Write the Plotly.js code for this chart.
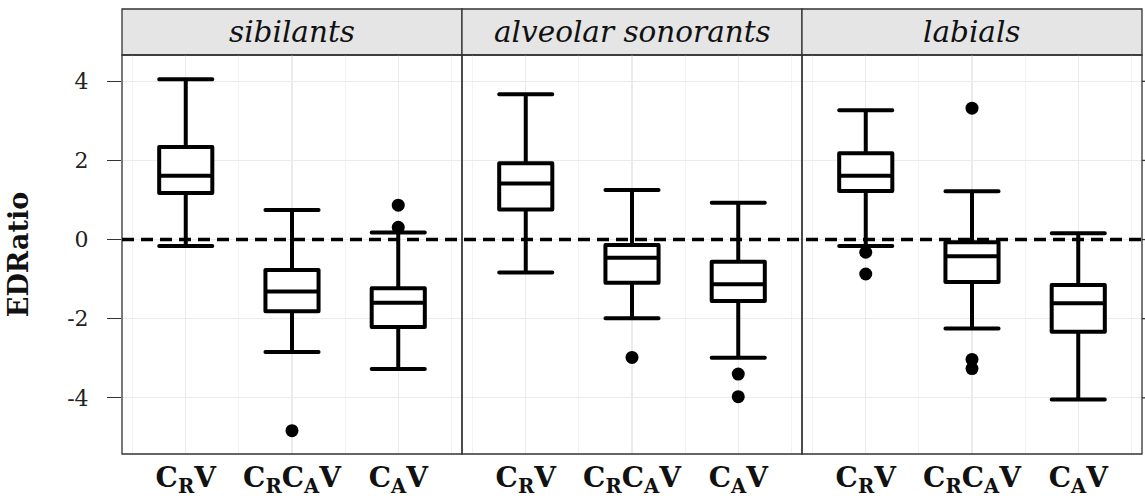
<!DOCTYPE html>
<html>
<head>
<meta charset="utf-8">
<script src="https://cdn.plot.ly/plotly-3.0.1.min.js"></script>
<style>html,body{margin:0;padding:0;background:#fff;}#chart{width:1145px;height:496px;}
.boxlayer path{stroke-linejoin:round;stroke-linecap:round;}</style>
</head>
<body>
<div id="chart"></div>
<script>
// ---- data ----
const categories = ['CRV', 'CRCAV', 'CAV'];
const tickLabels = ['<b>C<sub>R</sub>V</b>', '<b>C<sub>R</sub>C<sub>A</sub>V</b>', '<b>C<sub>A</sub>V</b>'];
const panels = ['sibilants', 'alveolar sonorants', 'labials'];
const yTickVals = [-4, -2, 0, 2, 4];
const yTickText = ['-4', '-2', '0', '2', '4'];

// sibilants
const sibLower = [-0.16, -2.84, -3.27];
const sibQ1    = [1.18, -1.81, -2.21];
const sibMed   = [1.61, -1.31, -1.60];
const sibQ3    = [2.34, -0.77, -1.23];
const sibUpper = [4.05, 0.75, 0.18];
const sibOutCat = ['CRCAV', 'CAV', 'CAV'];
const sibOutVal = [-4.83, 0.87, 0.31];

// alveolar sonorants
const alvLower = [-0.83, -1.99, -2.99];
const alvQ1    = [0.76, -1.09, -1.55];
const alvMed   = [1.42, -0.46, -1.13];
const alvQ3    = [1.93, -0.14, -0.56];
const alvUpper = [3.67, 1.25, 0.93];
const alvOutCat = ['CRCAV', 'CAV', 'CAV'];
const alvOutVal = [-2.98, -3.40, -3.97];

// labials
const labLower = [-0.16, -2.25, -4.04];
const labQ1    = [1.23, -1.07, -2.33];
const labMed   = [1.61, -0.42, -1.61];
const labQ3    = [2.18, -0.07, -1.15];
const labUpper = [3.27, 1.22, 0.16];
const labOutCat = ['CRV', 'CRV', 'CRCAV', 'CRCAV', 'CRCAV'];
const labOutVal = [-0.32, -0.87, 3.32, -3.03, -3.26];

// ---- build ----
const pos = c => categories.indexOf(c) + 1;
const xPos = categories.map(pos);
const panelData = [
  {lo: sibLower, q1: sibQ1, md: sibMed, q3: sibQ3, hi: sibUpper, oc: sibOutCat, ov: sibOutVal},
  {lo: alvLower, q1: alvQ1, md: alvMed, q3: alvQ3, hi: alvUpper, oc: alvOutCat, ov: alvOutVal},
  {lo: labLower, q1: labQ1, md: labMed, q3: labQ3, hi: labUpper, oc: labOutCat, ov: labOutVal}
];
const SERIF = '"DejaVu Serif", "Liberation Serif", serif';
const traces = [];
const axNames = ['x', 'x2', 'x3'];
panelData.forEach((p, i) => {
  traces.push({
    type: 'box', xaxis: axNames[i], yaxis: 'y',
    x: xPos, q1: p.q1, median: p.md, q3: p.q3, lowerfence: p.lo, upperfence: p.hi,
    width: 0.5, whiskerwidth: 1, boxpoints: false,
    line: {color: '#000', width: 4}, fillcolor: '#fff',
    showlegend: false, hoverinfo: 'y'
  });
  traces.push({
    type: 'scatter', mode: 'markers', xaxis: axNames[i], yaxis: 'y',
    x: p.oc.map(pos), y: p.ov,
    marker: {color: '#000', size: 13, line: {width: 0}},
    showlegend: false, hoverinfo: 'y'
  });
});

const yDomTop = 399 / 445;
const xRange = [0.4, 3.6];
function xAxis(d) {
  return {
    domain: d, range: xRange, anchor: 'y',
    tickmode: 'array', tickvals: xPos, ticktext: tickLabels,
    ticks: '', ticklabelstandoff: 4,
    tickfont: {family: SERIF, size: 28, color: '#111'},
    showline: false, zeroline: false,
    showgrid: true, gridcolor: '#ebebeb', gridwidth: 1.1,
    minor: {tickmode: 'array', tickvals: [0.5, 1.5, 2.5, 3.5], showgrid: true, gridcolor: '#f0f0f0', gridwidth: 0.8, ticks: ''},
    fixedrange: true
  };
}

const shapes = [];
const annotations = [];
for (let i = 0; i < 3; i++) {
  const x0 = i / 3, x1 = (i + 1) / 3;
  shapes.push({type: 'rect', xref: 'paper', yref: 'paper', x0: x0, x1: x1, y0: 0, y1: yDomTop,
    line: {color: '#333', width: 1.3}, fillcolor: 'rgba(0,0,0,0)', layer: 'above'});
  shapes.push({type: 'rect', xref: 'paper', yref: 'paper', x0: x0, x1: x1, y0: yDomTop, y1: 1,
    line: {color: '#333', width: 1.3}, fillcolor: '#e5e5e5', layer: 'below'});
  annotations.push({xref: 'paper', yref: 'paper', x: (x0 + x1) / 2, y: (yDomTop + 1) / 2,
    xanchor: 'center', yanchor: 'middle', showarrow: false,
    text: '<i>' + panels[i] + '</i>', font: {family: SERIF, size: 29.5, color: '#111'}});
}
// dashed reference line at 0
shapes.push({type: 'line', xref: 'paper', yref: 'y', x0: 0, x1: 1, y0: 0, y1: 0,
  line: {color: '#000', width: 3.4, dash: '12px,7px'}, layer: 'above'});
// right-side tick marks
yTickVals.forEach(v => {
  shapes.push({type: 'line', xref: 'paper', yref: 'y', xsizemode: 'pixel', xanchor: 1,
    x0: 0, x1: 14, y0: v, y1: v, line: {color: '#333', width: 1.3}});
});

const layout = {
  width: 1145, height: 496,
  margin: {l: 122, r: 3, t: 9, b: 42, pad: 0},
  paper_bgcolor: '#fff', plot_bgcolor: '#fff',
  showlegend: false, boxmode: 'overlay',
  xaxis: xAxis([0, 1 / 3]),
  xaxis2: xAxis([1 / 3, 2 / 3]),
  xaxis3: xAxis([2 / 3, 1]),
  yaxis: {
    domain: [0, yDomTop], range: [-5.42, 4.665], anchor: 'x',
    tickmode: 'array', tickvals: yTickVals, ticktext: yTickText,
    ticks: 'outside', ticklen: 14, tickwidth: 1.3, tickcolor: '#333',
    ticklabelstandoff: 14,
    tickfont: {family: SERIF, size: 22, color: '#222'},
    showline: false, zeroline: false,
    showgrid: true, gridcolor: '#ebebeb', gridwidth: 1.1,
    title: {text: '<b>EDRatio</b>', font: {family: SERIF, size: 27, color: '#111'}, standoff: 30},
    fixedrange: true
  },
  shapes: shapes,
  annotations: annotations
};

Plotly.newPlot('chart', traces, layout, {displayModeBar: false, staticPlot: true});
</script>
</body>
</html>
